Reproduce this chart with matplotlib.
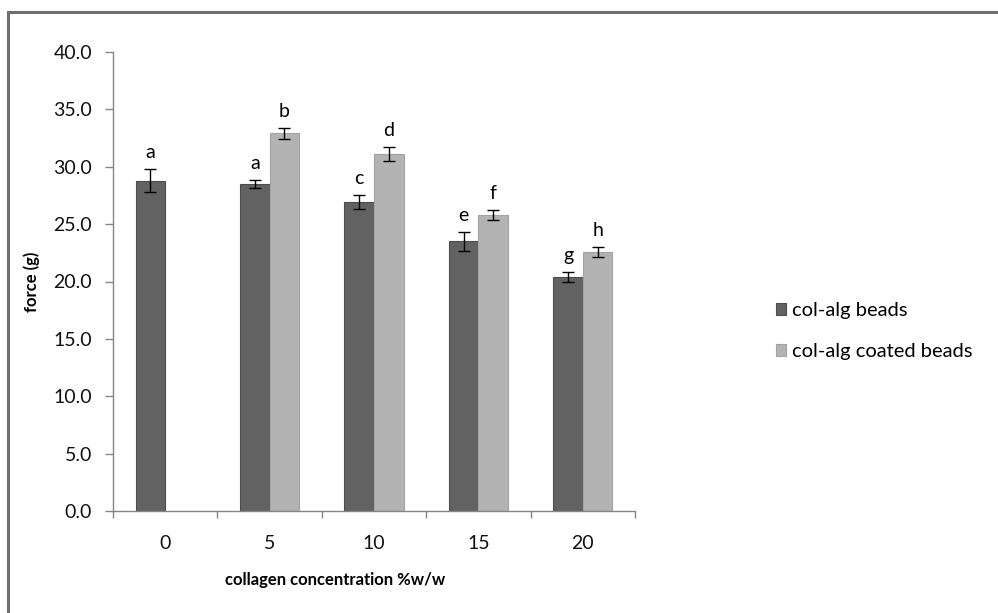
import numpy as np
import matplotlib
matplotlib.use("Agg")
import matplotlib.pyplot as plt
from matplotlib.lines import Line2D

plt.rcParams['font.family'] = ['Lato', 'DejaVu Sans']

# collagen content of the beads (%w/w)
concentrations = ['0', '5', '10', '15', '20']

# compression force (g), mean and error
beads_mean = [28.8, 28.5, 26.9, 23.5, 20.4]
beads_err = [1.0, 0.35, 0.6, 0.8, 0.45]
coated_mean = [np.nan, 32.9, 31.1, 25.8, 22.6]
coated_err = [np.nan, 0.5, 0.6, 0.4, 0.45]

# significance letters
beads_letters = ['a', 'a', 'c', 'e', 'g']
coated_letters = ['', 'b', 'd', 'f', 'h']

series_names = ['col-alg beads', 'col-alg coated beads']

W, H = 998, 613
fig = plt.figure(figsize=(W / 100, H / 100), dpi=100)

# outer frame
fig.add_artist(Line2D([8 / W, 8 / W], [0, 1 - 12 / H], color='#707070', lw=2.2))
fig.add_artist(Line2D([8 / W, 1], [1 - 12 / H, 1 - 12 / H], color='#707070', lw=2.2))

ax = fig.add_axes([113 / W, 1 - 511 / H, (635 - 113) / W, (511 - 52) / H])

x = np.arange(len(concentrations))
bw = 0.283
err_kw = dict(ecolor='black', elinewidth=1.0, capsize=4, capthick=1.0)
b1 = ax.bar(x - bw / 2, beads_mean, bw, yerr=beads_err, color='#626262',
            edgecolor='#4d4d4d', linewidth=0.8, error_kw=err_kw, label=series_names[0])
b2 = ax.bar(x + bw / 2, coated_mean, bw, yerr=coated_err, color='#b3b3b3',
            edgecolor='#a3a3a3', linewidth=0.8, error_kw=err_kw, label=series_names[1])

for xs, means, errs, letters in [(x - bw / 2, beads_mean, beads_err, beads_letters),
                                 (x + bw / 2, coated_mean, coated_err, coated_letters)]:
    for xi, m, e, t in zip(xs, means, errs, letters):
        if t:
            ax.annotate(t, (xi, m + e), xytext=(0, 11), textcoords='offset pixels',
                        ha='center', va='baseline', fontsize=14, color='black')

ax.set_xlim(-0.5, len(concentrations) - 0.5)
ax.set_ylim(0, 40)
ax.set_yticks(np.arange(0, 40.1, 5))
ax.set_yticklabels([f'{v:.1f}' for v in np.arange(0, 40.1, 5)])
ax.set_xticks(x)
ax.set_xticklabels(concentrations)
ax.set_xticks(np.arange(-0.5, len(concentrations)), minor=True)

for s in ['top', 'right']:
    ax.spines[s].set_visible(False)
for s in ['left', 'bottom']:
    ax.spines[s].set_color('#868686')
    ax.spines[s].set_linewidth(1.0)

ax.tick_params(axis='y', direction='out', length=6, width=1.0, color='#868686',
               labelsize=14, pad=9, labelcolor='#111111')
ax.tick_params(axis='x', which='major', length=0, labelsize=14, pad=17,
               labelcolor='#111111')
ax.tick_params(axis='x', which='minor', direction='out', length=5, width=1.0,
               color='#868686')

fig.text(32 / W, 1 - 282 / H, 'force (g)', rotation=90, ha='center', va='center',
         fontsize=12, fontweight='bold')
fig.text(335 / W, 1 - 580 / H, 'collagen concentration %w/w', ha='center', va='center',
         fontsize=12, fontweight='bold')

fig.legend(handles=[b1, b2], labels=series_names, loc='upper left',
           bbox_to_anchor=(776 / W, 1 - 302 / H), frameon=False, fontsize=14.5,
           handlelength=0.5, handleheight=0.5, handletextpad=0.3, labelspacing=1.2,
           borderpad=0, borderaxespad=0)

fig.savefig('out.png', dpi=100)
